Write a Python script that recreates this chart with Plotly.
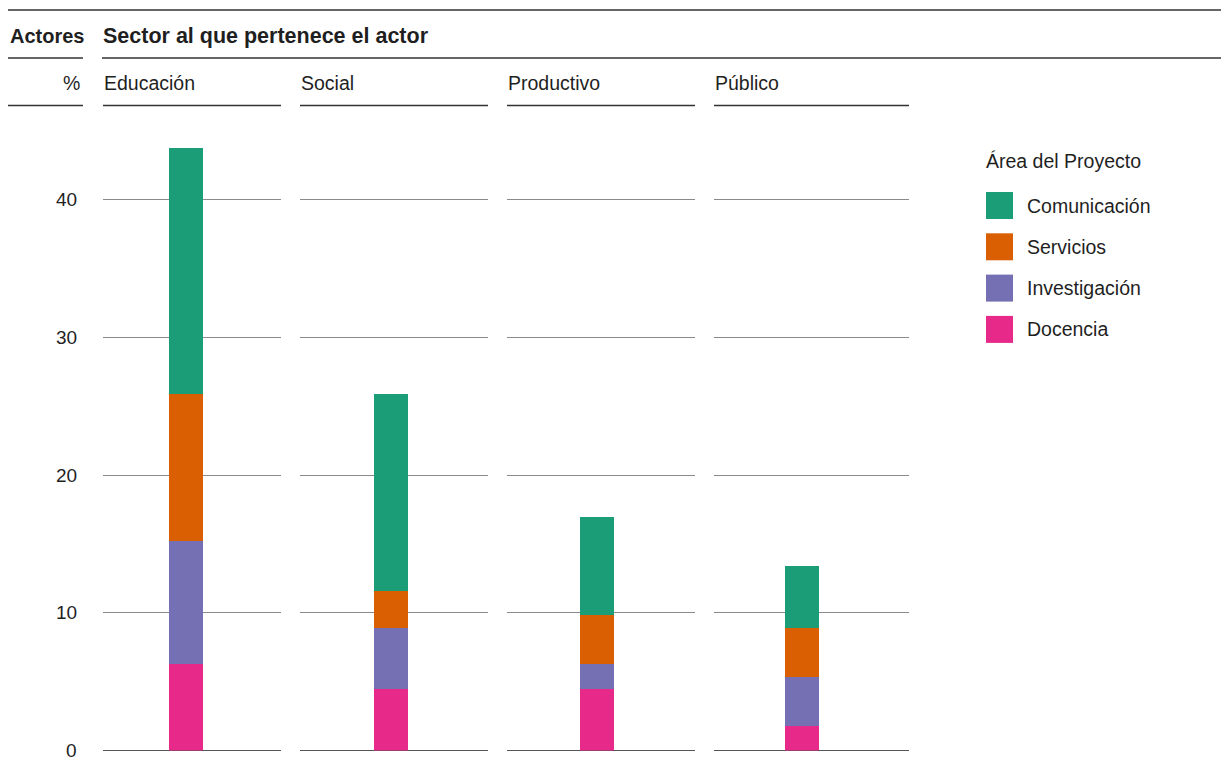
import plotly.graph_objects as go

# ---------------- data ----------------
sectors = ["Educación", "Social", "Productivo", "Público"]
areas = ["Docencia", "Investigación", "Servicios", "Comunicación"]  # stacking order (bottom -> top)
docencia = [6.25, 4.46, 4.46, 1.79]
investigacion = [8.93, 4.46, 1.79, 3.57]
servicios = [10.71, 2.68, 3.57, 3.57]
comunicacion = [17.86, 14.29, 7.14, 4.46]
y_ticks = [0, 10, 20, 30, 40]

series = {
    "Docencia": docencia,
    "Investigación": investigacion,
    "Servicios": servicios,
    "Comunicación": comunicacion,
}
colors = {
    "Comunicación": "#1b9e77",
    "Servicios": "#d95f02",
    "Investigación": "#7570b3",
    "Docencia": "#e7298a",
}
legend_order = ["Comunicación", "Servicios", "Investigación", "Docencia"]

# ---------------- layout geometry (pixels) ----------------
W, H = 1221, 767
FONT = "Liberation Sans, Arial, Helvetica, sans-serif"
TXT = "#1f1f1f"
panel_px = [(103, 281), (300, 488), (507, 695), (714, 909)]
bar_center_px = [186, 391, 596.5, 802]
bar_px = 34
y0_px, ytop_px = 750.5, 130
px_per_unit = 13.77
y_top_val = (y0_px - ytop_px) / px_per_unit


def fx(x):
    return x / W


def fy(y):
    return 1 - y / H


fig = go.Figure()

for i, sector in enumerate(sectors):
    sfx = "" if i == 0 else str(i + 1)
    for area in areas:
        fig.add_trace(go.Bar(
            x=[sector], y=[series[area][i]], name=area,
            xaxis="x" + sfx, yaxis="y" + sfx,
            marker=dict(color=colors[area], line=dict(width=0)),
            width=1, showlegend=False,
            hovertemplate=area + ": %{y:.1f}%<extra>" + sector + "</extra>",
        ))
    l, r = panel_px[i]
    c = bar_center_px[i]
    fig.update_layout(**{
        "xaxis" + sfx: dict(
            type="category", domain=[fx(l), fx(r)],
            range=[-(c - l) / bar_px, (r - c) / bar_px],
            showticklabels=False, showgrid=False, zeroline=False,
            showline=False, ticks="", anchor="y" + sfx, fixedrange=True,
        ),
        "yaxis" + sfx: dict(
            domain=[fy(y0_px), fy(ytop_px)], range=[0, y_top_val],
            tickvals=y_ticks, showgrid=True, gridcolor="#8a8a8a", gridwidth=1.3,
            zeroline=True, zerolinecolor="#555555", zerolinewidth=1.2,
            showline=False, showticklabels=False, ticks="",
            anchor="x" + sfx, fixedrange=True,
        ),
    })

shapes = []
annotations = []


def hline(x0, x1, y, color="#333333", width=1.4):
    shapes.append(dict(type="line", xref="paper", yref="paper",
                       x0=fx(x0), x1=fx(x1), y0=fy(y), y1=fy(y),
                       line=dict(color=color, width=width)))


def text(t, x, y, anchor="left", size=19.5, bold=False):
    annotations.append(dict(
        text=("<b>%s</b>" % t) if bold else t, xref="paper", yref="paper",
        x=fx(x), y=fy(y), xanchor=anchor, yanchor="middle", showarrow=False,
        font=dict(family=FONT, size=size, color=TXT),
    ))


# y tick labels placed on the first panel's y axis
for v in y_ticks:
    annotations.append(dict(
        text=str(v), xref="paper", yref="y", x=fx(79), y=v,
        xanchor="right", yanchor="middle", showarrow=False,
        font=dict(family=FONT, size=19, color=TXT),
    ))

# header rules
hline(8, W, 10, width=1.5)
hline(8, 83, 58)
hline(102, W, 58)
hline(8, 83, 105.5)
for (l, r) in panel_px:
    hline(l, r, 105.5)

# header texts
text("Actores", 8, 36, bold=True, size=20)
text("Sector al que pertenece el actor", 101, 36, bold=True, size=21.5)
text("%", 82, 83, anchor="right")
for (l, r), s in zip(panel_px, sectors):
    text(s, l - 1, 83)

# legend (drawn)
text("Área del Proyecto", 984, 161)
for k, area in enumerate(legend_order):
    top = 192 + k * 41.3
    shapes.append(dict(type="rect", xref="paper", yref="paper",
                       x0=fx(986), x1=fx(1013), y0=fy(top + 27), y1=fy(top),
                       fillcolor=colors[area], line=dict(width=0)))
    text(area, 1025, top + 13.5)

fig.update_layout(
    width=W, height=H, margin=dict(l=0, r=0, t=0, b=0),
    barmode="stack", bargap=0,
    plot_bgcolor="white", paper_bgcolor="white",
    shapes=shapes, annotations=annotations,
    font=dict(family=FONT, color=TXT),
    showlegend=False,
)

fig.write_html(
    "out.html",
    config={"displayModeBar": False},
    post_script="document.body.style.margin='0';document.body.style.padding='0';"
                "document.body.style.overflow='hidden';",
)
